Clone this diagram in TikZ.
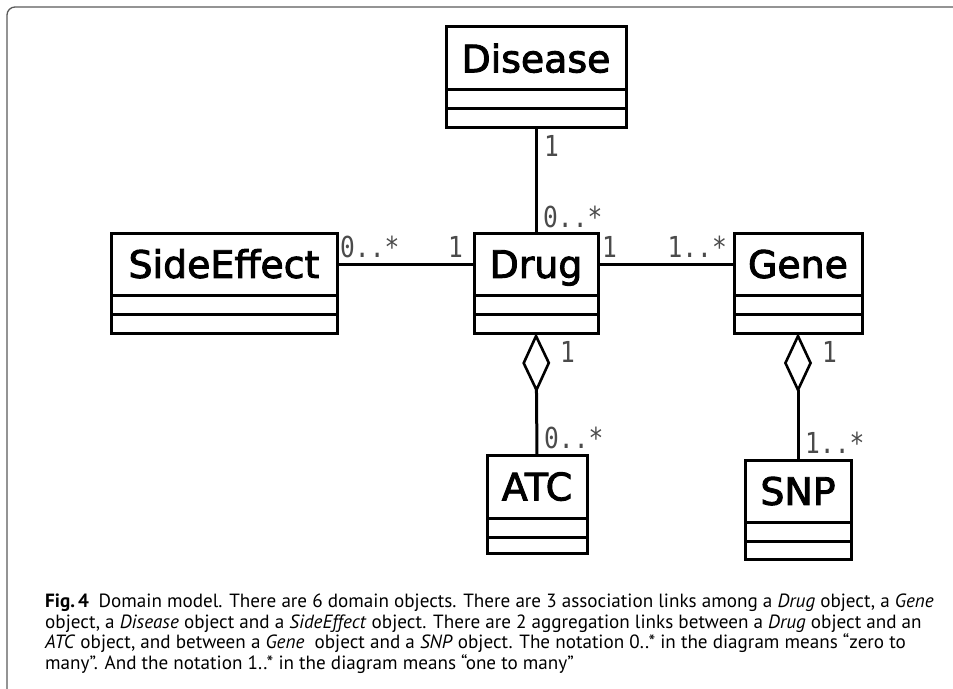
\documentclass[tikz,border=0pt]{standalone}
\usepackage{fontspec}
\usetikzlibrary{arrows.meta}
\newfontfamily\classfont[FakeBold=2.5]{DejaVu Sans}
\newfontfamily\multfont[FakeStretch=0.85]{DejaVu Sans Mono}
\newfontfamily\capfont{PT Sans}
\definecolor{multgray}{RGB}{75,75,75}
\definecolor{framegray}{RGB}{90,90,90}
\tikzset{
  classbox/.style={draw=black, line width=3bp, anchor=north west, inner sep=0pt, outer sep=0pt},
  classname/.style={anchor=north west, inner sep=0pt, outer sep=0pt,
    font=\classfont\fontsize{38}{38}\selectfont, text height=27.7bp, text depth=0pt},
  classline/.style={line width=3bp},
  assoc/.style={line width=3bp},
  aggr/.style={line width=3bp, -{Diamond[open, length=60bp, width=28bp, line width=2.6bp]}},
  mult/.style={inner sep=0pt, text=multgray, font=\multfont\fontsize{29}{29}\selectfont},
  capline/.style={anchor=base west, inner sep=0pt, font=\capfont\fontsize{19.2}{20.5}\selectfont},
  frameline/.style={draw=framegray, line width=1.3bp, rounded corners=8bp}
}
% #1 name, #2 left, #3 top, #4 right, #5 bottom, #6 first divider, #7 text
\newcommand{\umlclass}[7]{%
  \node[classbox, minimum width={(#4-#2)*1bp}, minimum height={(#5-#3)*1bp}] (#1) at (#2,#3) {};
  \node[classname, minimum width={(#4-#2)*1bp}, minimum height={(#6-#3)*1bp}] (#1n) at (#2,#3) {#7};
  \draw[classline] (#2,#6) -- (#4,#6);
  \draw[classline] (#2,{#6+19}) -- (#4,{#6+19});
}
\begin{document}
\begin{tikzpicture}[x=1bp, y=-1bp]
\useasboundingbox (0,0) rectangle (953,689);
\clip (0,0) rectangle (953,689);
\draw[frameline] (7,720) -- (7,7) -- (980,7);

\umlclass{disease}{446}{27}{626}{128}{90}{Disease}
\umlclass{sideeffect}{111}{233}{337}{333}{295}{SideEffect}
\umlclass{drug}{474}{233}{598}{333}{295}{Drug}
\umlclass{gene}{734}{233}{862}{333}{295}{Gene}
\umlclass{atc}{487}{455}{587}{553}{518}{ATC}
\umlclass{snp}{745}{460}{851}{559}{522}{SNP}

\draw[assoc] (disease.south) -- (drug.north);
\draw[assoc] (sideeffectn.east) -- (drugn.west);
\draw[assoc] (drugn.east) -- (genen.west);
\draw[aggr] (atc.north) -- (drug.south);
\draw[aggr] (snp.north) -- (gene.south);

\node[mult, anchor=base west] (m1) at (544,157) {1};
\node[mult, anchor=base west] (m2) at (543,227) {0..*};
\node[mult, anchor=base west] (m3) at (340,257) {0..*};
\node[mult, anchor=base east] (m4) at (463,257) {1};
\node[mult, anchor=base west] (m5) at (602,257) {1};
\node[mult, anchor=base east] (m6) at (727,257) {1..*};
\node[mult, anchor=base west] (m7) at (560,362) {1};
\node[mult, anchor=base west] (m8) at (544,448) {0..*};
\node[mult, anchor=base west] (m9) at (822,362) {1};
\node[mult, anchor=base west] (m10) at (805,453) {1..*};

\node[capline] (c1) at (45,607.5) {\textbf{Fig.\,4}\enspace Domain model. There are 6 domain objects. There are 3 association links among a \textit{Drug} object, a \textit{Gene}};
\node[capline] (c2) at (45,628) {object, a \textit{Disease} object and a \textit{SideEffect} object. There are 2 aggregation links between a \textit{Drug} object and an};
\node[capline] (c3) at (45,648.5) {\textit{ATC} object, and between a \textit{Gene}~ object and a \textit{SNP} object. The notation 0..* in the diagram means “zero to};
\node[capline] (c4) at (45,669) {many”. And the notation 1..* in the diagram means “one to many”};
\end{tikzpicture}
\end{document}
